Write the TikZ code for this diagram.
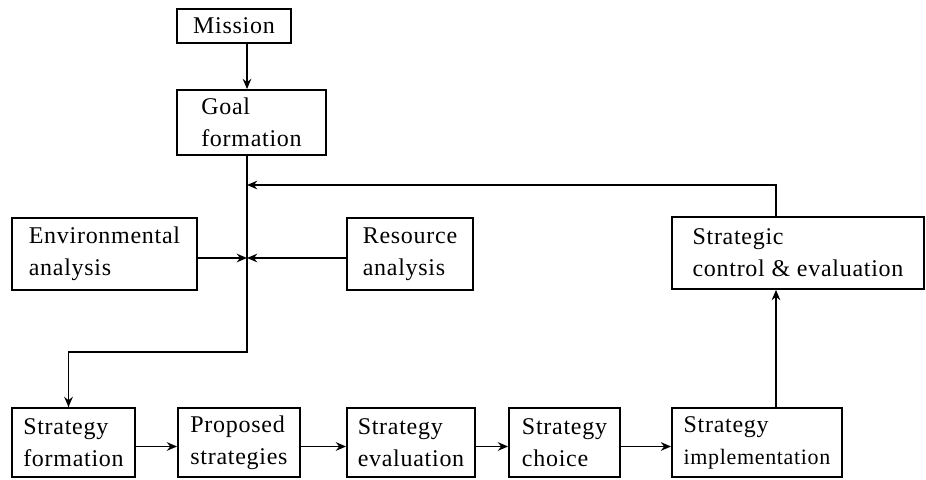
\documentclass[tikz,border=0pt]{standalone}
\usepackage{fontspec}
\setmainfont[LetterSpace=3]{Liberation Serif}
\usepackage{tikz}
\usetikzlibrary{arrows.meta,calc}
\tikzset{
  box/.style={draw, line width=0.9pt, align=left, inner sep=3pt,
              font=\fontsize{12}{16}\selectfont},
  flow/.style={-{Stealth[length=1.8mm,width=1.5mm]}, line width=0.9pt},
  link/.style={line width=0.9pt},
}
\begin{document}
\begin{tikzpicture}[x=0.5pt, y=-0.5pt]
    \useasboundingbox (0,0) rectangle (926,480);
    % top of the chain
    \node[box, minimum width=57pt, minimum height=17pt] (mission) at (234,26) {Mission};
    \node[box, minimum width=74.5pt, minimum height=32.5pt] (goal) at (251.5,122.5) {Goal\\formation};
    % analyses
    \node[box, minimum width=92.5pt, minimum height=36pt] (env) at (104.5,254) {Environmental\\analysis};
    \node[box, minimum width=63pt, minimum height=36pt] (res) at (410,254) {Resource\\analysis};
    \node[box, minimum width=126pt, minimum height=36pt] (ctrl) at (798,253) {Strategic\\control \& evaluation};
    % bottom row
    \foreach \x/\w/\n/\t in {73.5/61.5/form/{Strategy\\formation},
                             239/61/prop/{Proposed\\strategies},
                             411/64/eval/{Strategy\\evaluation},
                             564.5/55.5/choice/{Strategy\\choice},
                             757/85/impl/{Strategy\\{\fontsize{11}{16}\selectfont implementation}}}
      \node[box, minimum width=\w pt, minimum height=34.5pt] (\n) at (\x,442.5) {\t};
    \coordinate (jn) at (247,258);
    \coordinate (fb) at (247,185);
    \coordinate (bend) at (247,352);
    \coordinate (up) at (776,0);
    % connectors
    \draw[flow] (mission.south -| jn) -- (goal.north -| jn);
    \draw[link] (goal.south -| jn) -- (bend) -| ([xshift=-2.5pt]form.north) coordinate (fin);
    \draw[flow] (bend -| fin) -- (fin);
    \draw[flow] (env.east |- jn) -- (jn);
    \draw[flow] (res.west |- jn) -- (jn);
    \draw[flow] (ctrl.north -| up) |- (fb);
    \draw[flow] (impl.north -| up) -- (ctrl.south -| up);
    \foreach \a/\b in {form/prop, prop/eval, eval/choice, choice/impl}
      \draw[flow] ([yshift=-2pt]\a.east) -- ([yshift=-2pt]\b.west);
\end{tikzpicture}
\end{document}
